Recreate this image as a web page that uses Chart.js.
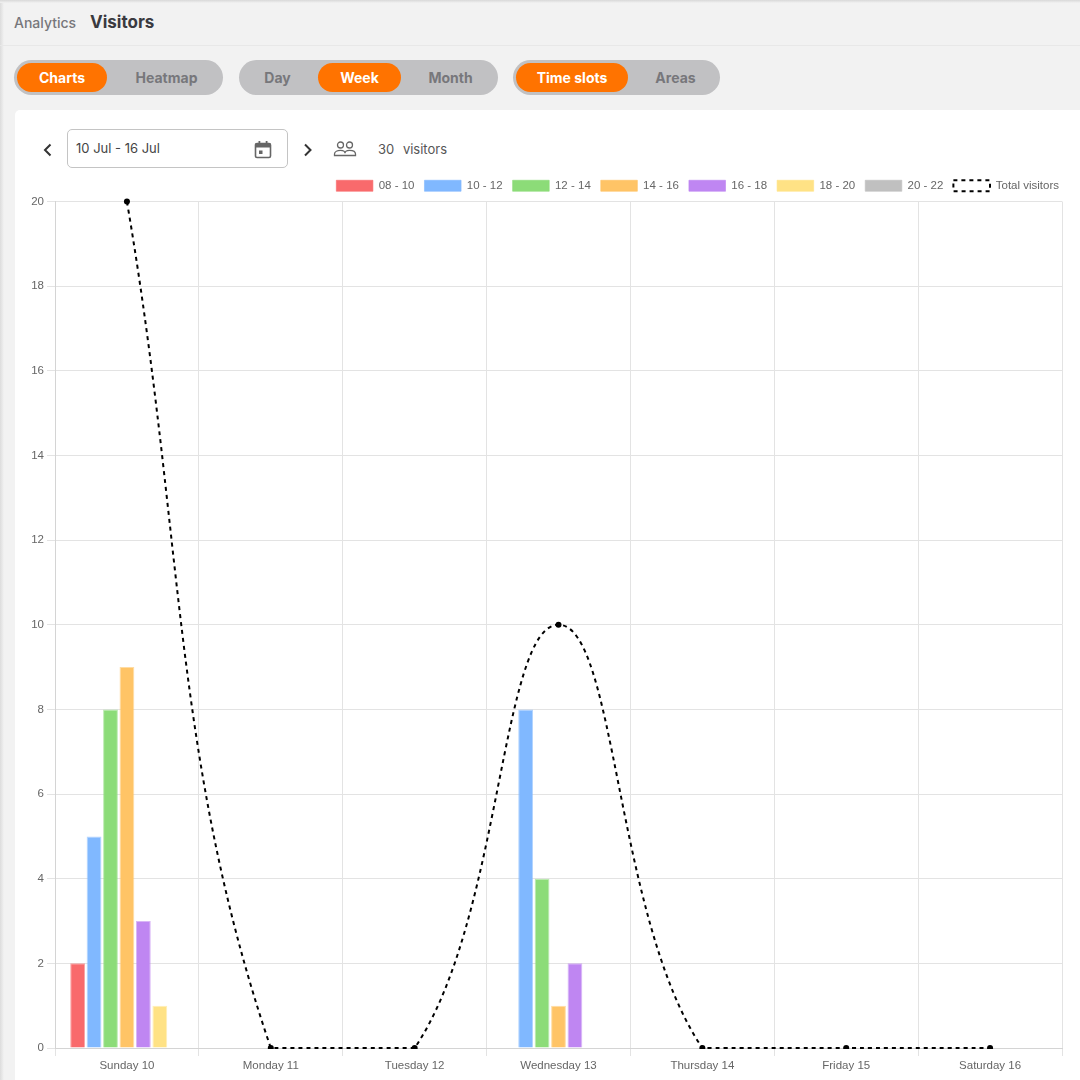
<!DOCTYPE html>
<html>
<head>
<meta charset="utf-8">
<script src="https://cdn.jsdelivr.net/npm/chart.js@4"></script>
<style>
html,body{margin:0;padding:0;width:1080px;height:1080px;overflow:hidden;background:#f2f2f2;font-family:"Inter","Open Sans",sans-serif}
#edgeL{position:absolute;left:0;top:0;width:4px;height:1080px;background:linear-gradient(to right,#dcdcdc,#f2f2f2)}
#edgeT{position:absolute;left:0;top:0;width:1080px;height:3px;background:linear-gradient(to bottom,#d8d8d8,#f2f2f2)}
#rule{position:absolute;left:0;top:45px;width:1080px;height:1px;background:#e8e8e8}
.t{position:absolute;white-space:nowrap}
#panel{position:absolute;left:15px;top:110px;width:1065px;height:970px;background:#fff;border-radius:5px 0 0 0}
.pill{position:absolute;top:60px;height:35px;border-radius:18px;background:#c1c1c3}
.on{position:absolute;top:63px;height:29px;border-radius:15px;background:#ff7300}
.lb{position:absolute;top:60px;height:35px;line-height:35px;text-align:center;font-size:14px;font-weight:700;color:#77777b}
.lb.w{color:#fff}
#date{position:absolute;left:67px;top:129px;width:219px;height:37px;border:1px solid #c4c4c4;border-radius:5px;background:#fff;box-sizing:content-box}
canvas{display:block}
#wrap{position:absolute;left:15px;top:170px;width:1051px;height:910px}
</style>
</head>
<body>
<div id="edgeL"></div><div id="edgeT"></div><div id="rule"></div>
<div class="t" style="left:14px;top:14px;font-size:14px;font-weight:500;color:#77777b">Analytics</div>
<div class="t" style="left:90px;top:12px;font-size:17px;font-weight:700;color:#3a3a40">Visitors</div>

<div class="pill" style="left:14px;width:209px"></div>
<div class="on" style="left:17px;width:90px"></div>
<div class="lb w" style="left:17px;width:90px">Charts</div>
<div class="lb" style="left:107px;width:119px">Heatmap</div>

<div class="pill" style="left:239px;width:259px"></div>
<div class="on" style="left:318px;width:83px"></div>
<div class="lb" style="left:239px;width:77px">Day</div>
<div class="lb w" style="left:318px;width:83px">Week</div>
<div class="lb" style="left:403px;width:95px">Month</div>

<div class="pill" style="left:513px;width:207px"></div>
<div class="on" style="left:516px;width:112px"></div>
<div class="lb w" style="left:516px;width:112px">Time slots</div>
<div class="lb" style="left:628px;width:95px">Areas</div>

<div id="panel"></div>

<svg style="position:absolute;left:40px;top:141px" width="16" height="18" viewBox="0 0 16 18"><path d="M10.5 3.5 L5 9 L10.500 14.5" fill="none" stroke="#333" stroke-width="2"/></svg>
<div id="date"></div>
<div class="t" style="left:76px;top:140px;font-size:13px;color:#444">10 Jul - 16 Jul</div>
<svg style="position:absolute;left:253px;top:140px" width="20" height="20" viewBox="0 0 20 20"><rect x="2.5" y="3.5" width="15" height="14" rx="1.5" fill="none" stroke="#666" stroke-width="1.6"/><rect x="2.5" y="3.5" width="15" height="4" fill="#666"/><rect x="5.5" y="1" width="1.8" height="3.5" fill="#666"/><rect x="12.7" y="1" width="1.8" height="3.5" fill="#666"/><rect x="6" y="10.5" width="3.5" height="3.5" fill="#666"/></svg>
<svg style="position:absolute;left:300px;top:141px" width="16" height="18" viewBox="0 0 16 18"><path d="M5 3.5 L10.500 9 L5 14.5" fill="none" stroke="#333" stroke-width="2"/></svg>
<svg style="position:absolute;left:333px;top:140px" width="24" height="18" viewBox="0 0 24 18"><circle cx="7.5" cy="5" r="3" fill="none" stroke="#666" stroke-width="1.3"/><circle cx="16.5" cy="5" r="3" fill="none" stroke="#666" stroke-width="1.3"/><path d="M1.5 15.5 v-1.5 c0-2.5 3-3.7 6-3.7 s4.500 1.200 4.500 3 c0-1.800 1.500-3 4.500-3 s6 1.200 6 3.700 v1.500 z" fill="none" stroke="#666" stroke-width="1.3"/></svg>
<div class="t" style="left:378px;top:141px;font-size:13px;color:#555;word-spacing:5px">30 visitors</div>

<div id="wrap"><canvas id="c" width="1051" height="910"></canvas></div>

<script>
const categories = ["Sunday 10","Monday 11","Tuesday 12","Wednesday 13","Thursday 14","Friday 15","Saturday 16"];
const slot0810 = [2,0,0,0,0,0,0];
const slot1012 = [5,0,0,8,0,0,0];
const slot1214 = [8,0,0,4,0,0,0];
const slot1416 = [9,0,0,1,0,0,0];
const slot1618 = [3,0,0,2,0,0,0];
const slot1820 = [1,0,0,0,0,0,0];
const slot2022 = [0,0,0,0,0,0,0];
const totalVisitors = [20,0,0,10,0,0,0];
const bar = (label,data,color) => ({type:'bar',label,data,backgroundColor:color,borderColor:color+'99',borderWidth:1,borderSkipped:'bottom'});
const legendShift = {id:'legendShift',afterLayout(chart){chart.legend.left+=4;chart.legend.right+=4;}};
new Chart(document.getElementById('c'),{
  type:'bar',
  plugins:[legendShift],
  data:{labels:categories,datasets:[
    bar('08 - 10',slot0810,'#f96a6c'),
    bar('10 - 12',slot1012,'#80b8ff'),
    bar('12 - 14',slot1214,'#8cdc78'),
    bar('14 - 16',slot1416,'#ffc466'),
    bar('16 - 18',slot1618,'#bf86f2'),
    bar('18 - 20',slot1820,'#ffe285'),
    bar('20 - 22',slot2022,'#c0c0c0'),
    {type:'line',label:'Total visitors',data:totalVisitors,borderColor:'#000',backgroundColor:'#fff',borderWidth:2,borderDash:[4,4],
     tension:0.4,pointRadius:3,pointBackgroundColor:'#000',pointBorderColor:'#000',pointBorderWidth:0,clip:{left:false,right:false,top:false,bottom:1},order:-1}
  ]},
  options:{
    responsive:false,animation:false,
    layout:{padding:{top:0,right:1,bottom:0,left:0}},
    plugins:{legend:{position:'top',align:'end',labels:{boxWidth:36.6,boxHeight:11,padding:10,color:'#666',sort:(a,b)=>a.datasetIndex-b.datasetIndex,font:{size:11.5,family:'"Liberation Sans",Arial,sans-serif'}}},tooltip:{enabled:false}},
    scales:{
      x:{grid:{color:'#e3e3e3'},border:{color:'#d4d4d4'},ticks:{color:'#666',font:{size:11.5,family:'"Liberation Sans",Arial,sans-serif'}},afterFit(s){s.height=32}},
      y:{min:0,max:20,ticks:{stepSize:2,color:'#666',font:{size:11.5,family:'"Liberation Sans",Arial,sans-serif'}},grid:{color:'#e3e3e3'},border:{color:'#d4d4d4'},afterFit(s){s.width=40}}
    }
  }
});
</script>
</body>
</html>
